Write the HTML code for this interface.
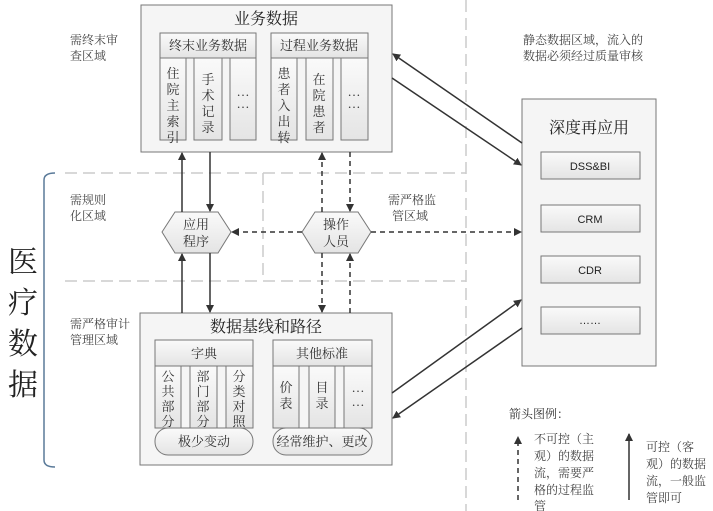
<!DOCTYPE html>
<html><head><meta charset="utf-8"><style>
body{margin:0;background:#fff;}
svg{display:block;font-family:"Liberation Serif","Noto Serif CJK SC","Noto Sans CJK SC",serif;}
</style></head><body>
<svg width="713" height="511" viewBox="0 0 713 511" xmlns="http://www.w3.org/2000/svg">
<defs>
<linearGradient id="g" x1="0" y1="0" x2="0" y2="1"><stop offset="0" stop-color="#fafafa"/><stop offset="1" stop-color="#e4e4e4"/></linearGradient>
<marker id="a" markerWidth="8" markerHeight="8" refX="7" refY="4" orient="auto" markerUnits="userSpaceOnUse"><path d="M0,0 L8,4 L0,8 z" fill="#333"/></marker>
</defs>
<g stroke="#ccc" stroke-width="1.5" stroke-dasharray="12,6" fill="none">
<line x1="65" y1="173" x2="466" y2="173"/>
<line x1="65" y1="281" x2="466" y2="281"/>
<line x1="466" y1="0" x2="466" y2="511"/>
<line x1="263" y1="173" x2="263" y2="281"/>
</g>
<path d="M55,173 Q44,173 44,180 L44,460 Q44,467 55,467" stroke="#5a7a99" stroke-width="1.5" fill="none"/>
<g font-size="30" fill="#222"><text x="8" y="272">医</text><text x="8" y="313">疗</text><text x="8" y="354">数</text><text x="8" y="395">据</text></g>
<g font-size="12" fill="#444">
<text x="70" y="44">需终末审</text><text x="70" y="60">查区域</text>
<text x="70" y="204">需规则</text><text x="70" y="220">化区域</text>
<text x="70" y="328">需严格审计</text><text x="70" y="344">管理区域</text>
<text x="388" y="204">需严格监</text><text x="392" y="220">管区域</text>
<text x="523" y="44">静态数据区域，流入的</text><text x="523" y="60">数据必须经过质量审核</text>
</g>
<!-- top box -->
<rect x="141" y="5" width="251" height="147" fill="#f5f5f5" stroke="#777"/>
<text x="266" y="24" font-size="16" text-anchor="middle" fill="#222">业务数据</text>
<g stroke="#777" fill="url(#g)">
<rect x="160" y="33" width="96" height="25"/><rect x="271" y="33" width="97" height="25"/>
<rect x="160" y="58" width="26" height="82"/><rect x="194" y="58" width="28" height="82"/><rect x="230" y="58" width="26" height="82"/>
<rect x="271" y="58" width="26" height="82"/><rect x="306" y="58" width="27" height="82"/><rect x="341" y="58" width="27" height="82"/>
</g>
<g font-size="13" fill="#333" text-anchor="middle">
<text x="208" y="50">终末业务数据</text><text x="319" y="50">过程业务数据</text>
<text x="173" y="78">住</text><text x="173" y="94">院</text><text x="173" y="110">主</text><text x="173" y="126">索</text><text x="173" y="142">引</text>
<text x="208" y="84">手</text><text x="208" y="100">术</text><text x="208" y="116">记</text><text x="208" y="132">录</text>
<text x="243" y="96">…</text><text x="243" y="108">…</text>
<text x="284" y="78">患</text><text x="284" y="94">者</text><text x="284" y="110">入</text><text x="284" y="126">出</text><text x="284" y="142">转</text>
<text x="319" y="84">在</text><text x="319" y="100">院</text><text x="319" y="116">患</text><text x="319" y="132">者</text>
<text x="354" y="96">…</text><text x="354" y="108">…</text>
</g>
<!-- bottom box -->
<rect x="140" y="313" width="252" height="152" fill="#f5f5f5" stroke="#777"/>
<text x="266" y="332" font-size="16" text-anchor="middle" fill="#222">数据基线和路径</text>
<g stroke="#777" fill="url(#g)">
<rect x="155" y="340" width="98" height="26"/><rect x="273" y="340" width="99" height="26"/>
<rect x="155" y="366" width="26" height="62"/><rect x="190" y="366" width="27" height="62"/><rect x="226" y="366" width="27" height="62"/>
<rect x="273" y="366" width="26" height="62"/><rect x="309" y="366" width="26" height="62"/><rect x="344" y="366" width="28" height="62"/>
<rect x="155" y="428" width="98" height="27" rx="13"/><rect x="273" y="428" width="99" height="27" rx="13"/>
</g>
<g font-size="13" fill="#333" text-anchor="middle">
<text x="204" y="358">字典</text><text x="322" y="358">其他标准</text>
<text x="168" y="381">公</text><text x="168" y="396">共</text><text x="168" y="411">部</text><text x="168" y="426">分</text>
<text x="203" y="381">部</text><text x="203" y="396">门</text><text x="203" y="411">部</text><text x="203" y="426">分</text>
<text x="239" y="381">分</text><text x="239" y="396">类</text><text x="239" y="411">对</text><text x="239" y="426">照</text>
<text x="286" y="392">价</text><text x="286" y="408">表</text>
<text x="322" y="392">目</text><text x="322" y="408">录</text>
<text x="358" y="392">…</text><text x="358" y="406">…</text>
<text x="204" y="446">极少变动</text><text x="322" y="446">经常维护、更改</text>
</g>
<!-- right box -->
<rect x="522" y="99" width="134" height="267" fill="#f5f5f5" stroke="#777"/>
<text x="589" y="133" font-size="16" text-anchor="middle" fill="#222">深度再应用</text>
<g stroke="#777" fill="url(#g)">
<rect x="541" y="152" width="99" height="27"/><rect x="541" y="205" width="99" height="27"/><rect x="541" y="256" width="99" height="27"/><rect x="541" y="307" width="99" height="27"/>
</g>
<g font-size="11" fill="#222" text-anchor="middle" font-family="Liberation Sans,sans-serif">
<text x="590" y="170">DSS&amp;BI</text><text x="590" y="223">CRM</text><text x="590" y="274">CDR</text><text x="590" y="324">……</text>
</g>
<!-- hexagons -->
<g stroke="#777" fill="url(#g)">
<polygon points="162,232 175,212 218,212 231,232 218,253 175,253"/>
<polygon points="302,232 315,212 358,212 371,232 358,253 315,253"/>
</g>
<g font-size="13" fill="#333" text-anchor="middle">
<text x="196" y="229">应用</text><text x="196" y="246">程序</text>
<text x="336" y="229">操作</text><text x="336" y="246">人员</text>
</g>
<!-- arrows -->
<g stroke="#333" stroke-width="1.5" fill="none" marker-end="url(#a)">
<line x1="182" y1="212" x2="182" y2="153"/>
<line x1="210" y1="152" x2="210" y2="211"/>
<line x1="182" y1="313" x2="182" y2="254"/>
<line x1="210" y1="253" x2="210" y2="312"/>
<line x1="392" y1="78" x2="521" y2="165"/>
<line x1="522" y1="143" x2="393" y2="54"/>
<line x1="392" y1="393" x2="521" y2="300"/>
<line x1="522" y1="328" x2="393" y2="418"/>
</g>
<g stroke="#333" stroke-width="1.5" fill="none" stroke-dasharray="5,4" marker-end="url(#a)">
<line x1="322" y1="212" x2="322" y2="153"/>
<line x1="350" y1="152" x2="350" y2="211"/>
<line x1="322" y1="253" x2="322" y2="312"/>
<line x1="350" y1="313" x2="350" y2="254"/>
<line x1="302" y1="232" x2="232" y2="232"/>
<line x1="371" y1="232" x2="521" y2="232"/>
</g>
<!-- legend -->
<text x="509" y="418" font-size="12" fill="#333">箭头图例：</text>
<line x1="518" y1="500" x2="518" y2="437" stroke="#333" stroke-width="1.5" stroke-dasharray="5,4" marker-end="url(#a)"/>
<line x1="629" y1="500" x2="629" y2="434" stroke="#333" stroke-width="1.5" marker-end="url(#a)"/>
<g font-size="12" fill="#444">
<text x="534" y="443">不可控（主</text><text x="534" y="460">观）的数据</text><text x="534" y="477">流，需要严</text><text x="534" y="494">格的过程监</text><text x="534" y="510">管</text>
<text x="646" y="451">可控（客</text><text x="646" y="468">观）的数据</text><text x="646" y="485">流，一般监</text><text x="646" y="502">管即可</text>
</g>
</svg>
</body></html>
